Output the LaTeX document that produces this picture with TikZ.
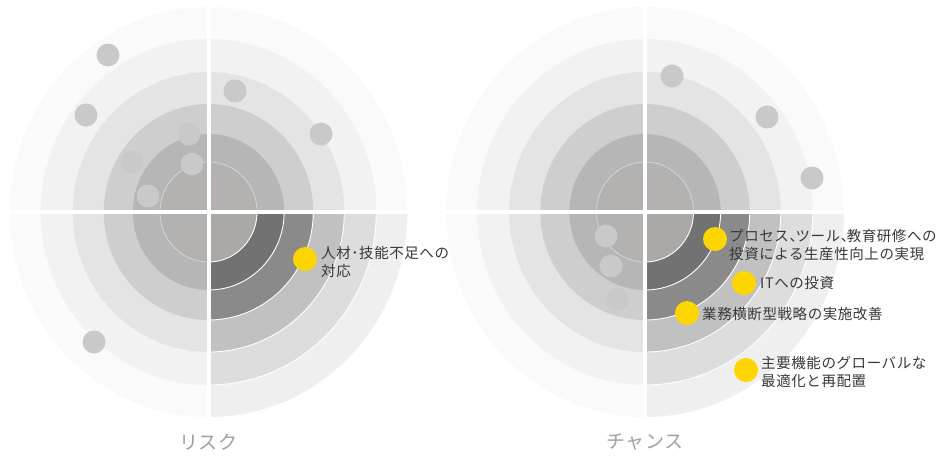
\documentclass[tikz,border=0pt]{standalone}
\usepackage{fontspec}
\newfontfamily\jp[LetterSpace=4]{Noto Sans CJK JP}
\newfontfamily\jpcap[LetterSpace=2]{Noto Sans CJK JP}
\newcommand\tc{、\kern-8.5pt}
\definecolor{rA}{HTML}{FAFAFA}
\definecolor{rB}{HTML}{F2F2F2}
\definecolor{rC}{HTML}{E4E4E4}
\definecolor{rD}{HTML}{CECECE}
\definecolor{rE}{HTML}{B6B6B6}
\definecolor{rF}{HTML}{B3B2B0}
\definecolor{hA}{HTML}{EFEFEF}
\definecolor{hB}{HTML}{DCDDDC}
\definecolor{hC}{HTML}{C0C1C0}
\definecolor{hD}{HTML}{8A8A8A}
\definecolor{hE}{HTML}{727272}
\definecolor{hF}{HTML}{AAA9A6}
\definecolor{dotgray}{HTML}{C8C9C8}
\definecolor{ey}{HTML}{FFD500}
\definecolor{txt}{HTML}{383838}
\definecolor{cap}{HTML}{A0A0A0}
\tikzset{
  gdot/.style={circle,fill=dotgray,minimum size=23pt,inner sep=0pt},
  ydot/.style={circle,fill=ey,minimum size=24pt,inner sep=0pt},
  lbl/.style={anchor=west,inner sep=0pt,align=left,text=txt,font=\jp\fontsize{14.5}{18}\selectfont},
  captxt/.style={inner sep=0pt,text=cap,font=\jpcap\fontsize{19}{21}\selectfont},
  ringline/.style={white,line width=0.9pt},
  innerline/.style={white,opacity=0.55,line width=0.6pt}
}
\newcommand\myradar[2]{%
  \begin{scope}[shift={(#1,#2)},xscale=0.97]
    \fill[rA] (0,0) circle[radius=205];
    \fill[rB] (0,0) circle[radius=173];
    \fill[rC] (0,0) circle[radius=140];
    \fill[rD] (0,0) circle[radius=108];
    \fill[rE] (0,0) circle[radius=78];
    \fill[rF] (0,0) circle[radius=50];
    \draw[innerline] (0,0) circle[radius=50];
    \begin{scope}
      \clip (0,0) rectangle (212,212);
      \fill[hA] (0,0) circle[radius=205];
      \fill[hB] (0,0) circle[radius=173];
      \fill[hC] (0,0) circle[radius=140];
      \fill[hD] (0,0) circle[radius=108];
      \fill[hE] (0,0) circle[radius=78];
      \fill[hF] (0,0) circle[radius=50];
      \foreach \r in {50,78,108,140,173}{\draw[ringline] (0,0) circle[radius=\r];}
    \end{scope}
    \draw[white,line width=4pt] (0,-206) -- (0,206);
    \draw[white,line width=4pt] (-206,0) -- (206,0);
  \end{scope}}
\begin{document}
\begin{tikzpicture}[x=1pt,y=-1pt]
\useasboundingbox (0,0) rectangle (951,459);
\fill[white] (0,0) rectangle (951,459);
\myradar{208.5}{212}
\myradar{645}{212}
% left chart gray dots
\node[gdot] (l1) at (108,55) {};
\node[gdot] (l2) at (86,115) {};
\node[gdot] (l3) at (235,91) {};
\node[gdot] (l4) at (321,134) {};
\node[gdot] (l5) at (189,134) {};
\node[gdot] (l6) at (132,162) {};
\node[gdot] (l7) at (192,164) {};
\node[gdot] (l8) at (148,196) {};
\node[gdot] (l9) at (94,342) {};
% left highlight
\node[ydot] (ly) at (305,259) {};
\node[lbl] (lt) at (321,261.5) {人材･技能不足への\\対応};
% right chart gray dots
\node[gdot] (r1) at (672,76) {};
\node[gdot] (r2) at (767,117) {};
\node[gdot] (r3) at (812,178) {};
\node[gdot] (r4) at (606,236) {};
\node[gdot] (r5) at (611,266) {};
\node[gdot] (r6) at (617,299) {};
% right highlights
\node[ydot] (ya) at (715,239) {};
\node[ydot] (yb) at (744,283) {};
\node[ydot] (yc) at (687,313) {};
\node[ydot] (yd) at (746,370) {};
\node[lbl] (ta) at (729,245) {プロセス\tc ツール\tc 教育研修への\\投資による生産性向上の実現};
\node[lbl] (tb) at (760,283) {ITへの投資};
\node[lbl] (tc) at (702,314) {業務横断型戦略の実施改善};
\node[lbl] (td) at (761,372) {主要機能のグローバルな\\最適化と再配置};
% captions
\node[captxt] (c1) at (208.5,442) {リスク};
\node[captxt] (c2) at (645,442) {チャンス};
\end{tikzpicture}
\end{document}
